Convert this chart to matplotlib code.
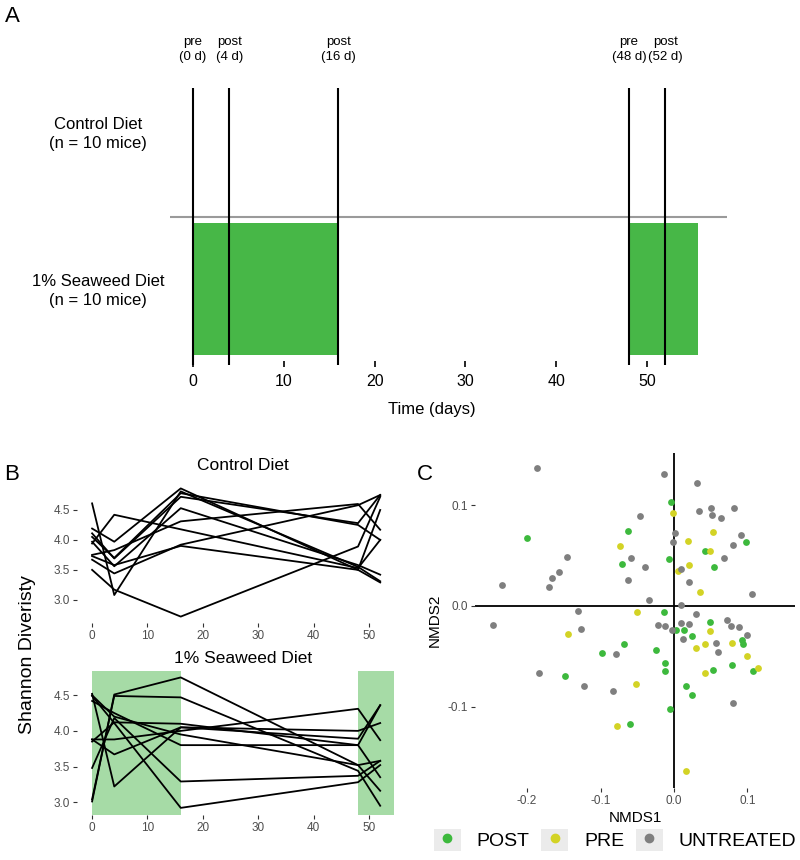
import numpy as np
import matplotlib
matplotlib.use("Agg")
import matplotlib.pyplot as plt
from matplotlib.patches import Patch
from matplotlib.lines import Line2D
from matplotlib.legend_handler import HandlerTuple

plt.rcParams['font.family'] = ['Liberation Sans', 'DejaVu Sans']

# ---- panel A: study design ----
sample_days = [0, 4, 16, 48, 52]
sample_labels = ['pre\n(0 d)', 'post\n(4 d)', 'post\n(16 d)', 'pre\n(48 d)', 'post\n(52 d)']
diet_periods = [(0, 16), (48, 55.6)]
diet_groups = ['Control Diet\n(n = 10 mice)', '1% Seaweed Diet\n(n = 10 mice)']
time_ticks = [10, 20, 30, 40, 50]

# ---- panel B: Shannon diversity per mouse (days 0, 4, 16, 48, 52) ----
days = np.array([0, 4, 16, 48, 52])
control_div = [
    [4.61, 3.08, 4.81, 3.55, 3.31],
    [4.19, 3.97, 4.86, 3.50, 4.50],
    [4.11, 3.69, 4.72, 4.28, 4.75],
    [3.97, 3.56, 4.53, 3.58, 3.42],
    [3.94, 4.42, np.nan, 3.53, 4.00],
    [3.50, 3.17, 2.72, 3.89, 4.72],
    [3.75, 3.83, 4.31, 4.60, 4.17],
    [3.67, 3.44, 3.92, 4.58, 4.75],
    [4.05, 3.70, 4.78, 4.25, 4.00],
    [3.73, 3.58, 3.90, 3.50, 3.29],
]
seaweed_div = [
    [3.01, 4.51, 4.75, 3.52, 3.58],
    [3.04, 4.49, 4.47, 3.44, 2.95],
    [4.52, 3.22, 4.05, 3.89, 4.36],
    [4.49, 4.11, 2.92, 3.28, 3.52],
    [3.88, 3.88, 4.00, 4.31, 3.87],
    [3.48, 4.18, 3.29, 3.37, 3.58],
    [4.42, 4.25, 3.80, 3.80, 4.36],
    [3.88, 3.67, 4.05, 4.00, 4.11],
    [4.50, 4.20, 3.95, 3.52, 3.16],
    [3.85, 4.12, 4.10, 3.80, 3.35],
]
seaweed_periods = [(0, 16), (48, 54.5)]

# ---- panel C: NMDS ordination ----
post_x = [-0.200, -0.004, -0.062, -0.071, -0.006, 0.042, 0.055, 0.098, -0.013, 0.003,
          0.014, 0.049, 0.025, 0.093, 0.094, -0.068, -0.098, -0.024, -0.012, -0.012,
          -0.148, 0.016, 0.024, -0.005, -0.060, 0.053, 0.079, 0.108]
post_y = [0.068, 0.103, 0.074, 0.042, 0.047, 0.055, 0.039, 0.064, -0.006, -0.024,
          -0.024, -0.016, -0.030, -0.034, -0.038, -0.038, -0.047, -0.044, -0.057, -0.065,
          -0.070, -0.080, -0.089, -0.102, -0.117, -0.064, -0.059, -0.065]
pre_x = [-0.001, -0.073, 0.019, 0.053, 0.049, 0.021, 0.005, 0.036, -0.050, -0.144,
         0.049, 0.079, 0.042, 0.030, 0.099, 0.042, 0.115, -0.052, -0.077, 0.016]
pre_y = [0.092, 0.060, 0.065, 0.073, 0.055, 0.041, 0.035, 0.014, -0.006, -0.028,
         -0.025, -0.037, -0.038, -0.042, -0.050, -0.067, -0.062, -0.078, -0.119, -0.164]
untr_x = [-0.187, -0.013, 0.031, 0.034, 0.050, 0.052, 0.064, 0.082, -0.046, 0.001,
          -0.001, 0.091, 0.081, 0.068, -0.059, -0.039, 0.010, 0.021, -0.063, 0.107,
          -0.034, 0.010, -0.146, -0.157, -0.166, -0.170, -0.234, -0.247, -0.130, -0.126,
          0.030, -0.021, -0.012, -0.003, 0.010, 0.020, 0.072, 0.078, 0.089, 0.099,
          0.012, 0.057, -0.079, -0.184, -0.122, -0.083, 0.060, 0.080]
untr_y = [0.137, 0.131, 0.122, 0.094, 0.097, 0.090, 0.087, 0.097, 0.089, 0.072,
          0.064, 0.070, 0.061, 0.048, 0.048, 0.039, 0.037, 0.024, 0.026, 0.012,
          0.006, 0.001, 0.049, 0.034, 0.028, 0.019, 0.021, -0.019, -0.005, -0.023,
          -0.008, -0.019, -0.020, -0.024, -0.017, -0.018, -0.014, -0.020, -0.021, -0.029,
          -0.033, -0.037, -0.048, -0.067, -0.080, -0.085, -0.046, -0.097]
group_names = ['POST', 'PRE', 'UNTREATED']
group_colors = ['#3db93d', '#d3d325', '#7f7f7f']

W, H = 800, 860
fig = plt.figure(figsize=(W / 100, H / 100), dpi=100)


def px_axes(l, t, r, b):
    return fig.add_axes([l / W, 1 - b / H, (r - l) / W, (b - t) / H])


# ===== A =====
axA = px_axes(170, 88, 727, 361)
axA.set_xlim(-2.53, 58.81)
axA.set_ylim(0, 1)
for s in axA.spines.values():
    s.set_visible(False)
for a, b in diet_periods:
    axA.axvspan(a, b, ymin=0.022, ymax=0.505, color='#47b747', lw=0)
axA.axhline(0.527, color='#9a9a9a', lw=1.5)
axA.vlines(sample_days, -0.015, 1, color='black', lw=1.5, clip_on=False)
for d, lab in zip(sample_days, sample_labels):
    axA.text(d, 1.09, lab, ha='center', va='bottom', fontsize=9.5, linespacing=1.35)
axA.set_yticks([])
axA.set_xticks([0] + time_ticks)
axA.set_xticklabels([str(t) for t in [0] + time_ticks])
axA.tick_params(axis='x', length=4, width=1.2, pad=5, labelsize=11.5)
fig.text(98 / W, 1 - 134 / H, diet_groups[0], ha='center', va='center',
         fontsize=12, linespacing=1.35)
fig.text(98 / W, 1 - 291 / H, diet_groups[1], ha='center', va='center',
         fontsize=12, linespacing=1.35)
fig.text(432 / W, 1 - 410 / H, 'Time (days)', ha='center', va='center', fontsize=12)
fig.text(12 / W, 1 - 16 / H, 'A', ha='center', va='center', fontsize=16)

# ===== B =====
axB1 = px_axes(77, 482, 409, 623)
axB2 = px_axes(77, 671, 409, 815)
for a, b in seaweed_periods:
    axB2.axvspan(a, b, color='#a6dba6', lw=0)
for ax, data in [(axB1, control_div), (axB2, seaweed_div)]:
    for row in data:
        row = np.array(row, dtype=float)
        ok = ~np.isnan(row)
        ax.plot(days[ok], row[ok], color='black', lw=1.3)
    ax.set_xlim(-2.725, 57.2)
    ax.set_xticks([0, 10, 20, 30, 40, 50])
    ax.set_yticks([3.0, 3.5, 4.0, 4.5])
    ax.set_yticklabels(['3.0', '3.5', '4.0', '4.5'])
    for s in ax.spines.values():
        s.set_visible(False)
    ax.tick_params(length=3, color='#333333', labelcolor='#4d4d4d', labelsize=8.5, pad=2)
axB1.set_ylim(2.613, 4.967)
axB2.set_ylim(2.82, 4.84)
axB1.set_title('Control Diet', fontsize=12.5, pad=9)
axB2.set_title('1% Seaweed Diet', fontsize=12.5, pad=6)
fig.text(28 / W, 1 - 655 / H, 'Shannon Diveristy', rotation=90, ha='center',
         va='center', fontsize=14)
fig.text(12 / W, 1 - 475 / H, 'B', ha='center', va='center', fontsize=16)

# ===== C =====
axC = px_axes(475, 453, 795, 788)
axC.set_xlim(-0.271, 0.165)
axC.set_ylim(-0.181, 0.152)
axC.axhline(0, color='black', lw=1.3, zorder=1)
axC.axvline(0, color='black', lw=1.3, zorder=1)
for xs, ys, c in [(post_x, post_y, group_colors[0]),
                  (pre_x, pre_y, group_colors[1]),
                  (untr_x, untr_y, group_colors[2])]:
    axC.scatter(xs, ys, s=24, color=c, lw=0, zorder=3)
for s in axC.spines.values():
    s.set_visible(False)
axC.set_xticks([-0.2, -0.1, 0.0, 0.1])
axC.set_xticklabels(['-0.2', '-0.1', '0.0', '0.1'])
axC.set_yticks([-0.1, 0.0, 0.1])
axC.set_yticklabels(['-0.1', '0.0', '0.1'])
axC.tick_params(length=3, color='#333333', labelcolor='#4d4d4d', labelsize=8.5, pad=2)
axC.set_xlabel('NMDS1', fontsize=11, labelpad=3)
axC.set_ylabel('NMDS2', fontsize=11, labelpad=4)
fig.text(425 / W, 1 - 475 / H, 'C', ha='center', va='center', fontsize=16)

handles = []
for c in group_colors:
    bg = Patch(facecolor='#ebebeb', edgecolor='none')
    dot = Line2D([], [], ls='none', marker='o', markersize=6, color=c)
    handles.append((bg, dot))
fig.legend(handles, group_names, handler_map={tuple: HandlerTuple(ndivide=1, pad=0)},
           loc='center', bbox_to_anchor=(615 / W, 1 - 840 / H), ncol=3, frameon=False,
           fontsize=14, handlelength=1.4, handleheight=1.4, handletextpad=0.8,
           columnspacing=0.6, borderaxespad=0)

fig.savefig('out.png', dpi=100)
